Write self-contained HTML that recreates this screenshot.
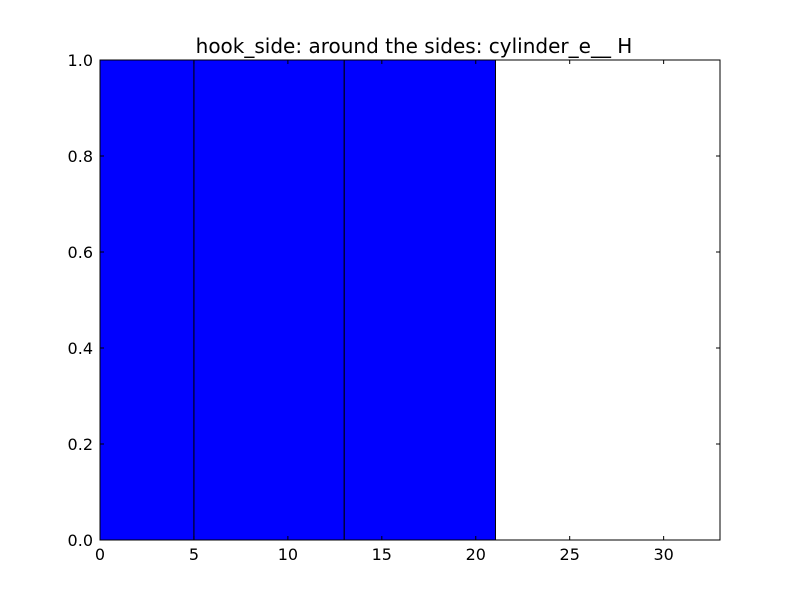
<!DOCTYPE html>
<html><head><meta charset="utf-8"><style>
body{margin:0;background:#fff;}
svg{display:block;font-family:"DejaVu Sans","Liberation Sans",sans-serif;}
</style></head><body>
<svg id="chart" width="800" height="600">
<rect width="800" height="600" fill="#fff"/>
<text x="414" y="53" text-anchor="middle" font-size="20">hook_side: around the sides: cylinder_e__ H</text>
<g id="bars"></g>
<rect x="100" y="60" width="620" height="480" fill="none" stroke="#000" stroke-width="1"/>
<g id="axes"></g>
</svg>
<script>
const binLefts = [0, 5, 13];
const binRights = [5, 13, 21.05];
const binHeights = [1, 1, 1];
const xTicks = [0, 5, 10, 15, 20, 25, 30];
const yTicks = [0.0, 0.2, 0.4, 0.6, 0.8, 1.0];
const xMin = 0, xMax = 33, yMin = 0, yMax = 1;
const L = 100, R = 720, T = 60, B = 540;
const sx = v => L + (v - xMin) / (xMax - xMin) * (R - L);
const sy = v => B - (v - yMin) / (yMax - yMin) * (B - T);
const NS = "http://www.w3.org/2000/svg";
const bars = document.getElementById('bars');
const axes = document.getElementById('axes');
binLefts.forEach((l, i) => {
  const r = document.createElementNS(NS, 'rect');
  r.setAttribute('x', sx(l));
  r.setAttribute('y', sy(binHeights[i]));
  r.setAttribute('width', sx(binRights[i]) - sx(l));
  r.setAttribute('height', sy(0) - sy(binHeights[i]));
  r.setAttribute('fill', '#0000ff');
  r.setAttribute('stroke', '#000');
  r.setAttribute('stroke-width', '1');
  
  
  bars.appendChild(r);
});
xTicks.forEach(v => {
  const x = sx(v);
  [[B, B - 4], [T, T + 4]].forEach(([a, b]) => {
    const t = document.createElementNS(NS, 'line');
    t.setAttribute('x1', x); t.setAttribute('x2', x);
    t.setAttribute('y1', a); t.setAttribute('y2', b);
    t.setAttribute('stroke', '#000');
    
    
    axes.appendChild(t);
  });
  const s = document.createElementNS(NS, 'text');
  s.setAttribute('x', x); s.setAttribute('y', B + 20);
  s.setAttribute('text-anchor', 'middle'); s.setAttribute('font-size', '16');
  s.textContent = v;
  
  
  axes.appendChild(s);
});
yTicks.forEach(v => {
  const y = sy(v);
  [[L, L + 4], [R, R - 4]].forEach(([a, b]) => {
    const t = document.createElementNS(NS, 'line');
    t.setAttribute('x1', a); t.setAttribute('x2', b);
    t.setAttribute('y1', y); t.setAttribute('y2', y);
    t.setAttribute('stroke', '#000');
    
    
    axes.appendChild(t);
  });
  const s = document.createElementNS(NS, 'text');
  s.setAttribute('x', L - 7); s.setAttribute('y', y + 6);
  s.setAttribute('text-anchor', 'end'); s.setAttribute('font-size', '16');
  s.textContent = v.toFixed(1);
  
  
  axes.appendChild(s);
});
</script>
</body></html>
